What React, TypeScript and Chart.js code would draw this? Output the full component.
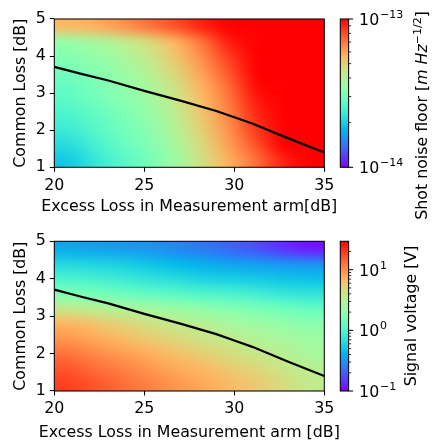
import React, { useEffect, useRef } from 'react';
import { Chart, registerables } from 'chart.js';

Chart.register(...registerables);

// ---------------- data ----------------
// heat-map cell centres
const EXCESS_LOSS_CENTERS = [20.75, 22.25, 23.75, 25.25, 26.75, 28.25, 29.75, 31.25, 32.75, 34.25];
const COMMON_LOSS_CENTERS = [1.2, 1.6, 2.0, 2.4, 2.8, 3.2, 3.6, 4.0, 4.4, 4.8];

// log10 of shot noise floor [m Hz^-1/2]; rows = common loss (bottom -> top)
const SHOT_NOISE_LOG10 = [
  [-13.71, -13.64, -13.58, -13.52, -13.44, -13.34, -13.24, -13.14, -13.04, -12.95],
  [-13.67, -13.61, -13.55, -13.50, -13.42, -13.32, -13.21, -13.10, -13.00, -12.92],
  [-13.63, -13.58, -13.53, -13.48, -13.40, -13.30, -13.19, -13.07, -12.97, -12.90],
  [-13.60, -13.56, -13.51, -13.46, -13.38, -13.28, -13.17, -13.05, -12.95, -12.90],
  [-13.57, -13.53, -13.49, -13.44, -13.36, -13.26, -13.15, -13.03, -12.93, -12.90],
  [-13.55, -13.51, -13.47, -13.42, -13.34, -13.24, -13.13, -13.01, -12.92, -12.90],
  [-13.52, -13.49, -13.45, -13.39, -13.31, -13.21, -13.10, -12.99, -12.90, -12.90],
  [-13.49, -13.46, -13.42, -13.36, -13.28, -13.18, -13.07, -12.97, -12.90, -12.90],
  [-13.45, -13.42, -13.38, -13.32, -13.24, -13.14, -13.03, -12.95, -12.90, -12.90],
  [-13.26, -13.24, -13.20, -13.15, -13.10, -13.04, -12.98, -12.92, -12.90, -12.90],
];

// log10 of signal voltage [V]; rows = common loss (bottom -> top)
const SIGNAL_VOLTAGE_LOG10 = [
  [1.27, 1.20, 1.12, 1.05, 0.97, 0.90, 0.83, 0.75, 0.65, 0.55],
  [1.20, 1.12, 1.05, 0.97, 0.90, 0.83, 0.75, 0.68, 0.58, 0.51],
  [1.10, 1.02, 0.95, 0.88, 0.80, 0.73, 0.65, 0.58, 0.51, 0.43],
  [0.97, 0.90, 0.83, 0.75, 0.68, 0.60, 0.55, 0.48, 0.43, 0.38],
  [0.85, 0.78, 0.70, 0.63, 0.55, 0.51, 0.43, 0.38, 0.33, 0.28],
  [0.56, 0.51, 0.46, 0.41, 0.36, 0.31, 0.26, 0.21, 0.16, 0.11],
  [0.23, 0.19, 0.14, 0.09, 0.06, 0.01, -0.01, -0.06, -0.11, -0.14],
  [-0.01, -0.04, -0.09, -0.14, -0.19, -0.24, -0.26, -0.28, -0.31, -0.33],
  [-0.21, -0.24, -0.26, -0.31, -0.36, -0.41, -0.46, -0.48, -0.51, -0.53],
  [-0.43, -0.46, -0.48, -0.51, -0.56, -0.61, -0.68, -0.75, -0.85, -0.93],
];

// black boundary curve
const BOUNDARY_EXCESS_LOSS = [20, 21.5, 23, 25, 27, 29, 30, 31, 33, 35];
const BOUNDARY_COMMON_LOSS = [3.71, 3.52, 3.34, 3.06, 2.80, 2.52, 2.35, 2.18, 1.78, 1.40];

const X_TICKS = [20, 25, 30, 35];
const Y_TICKS = [1, 2, 3, 4, 5];
const SHOT_NOISE_RANGE = [1e-14, 1e-13];
const SHOT_NOISE_MAJOR = [1e-14, 1e-13];
const SIGNAL_RANGE = [0.1, 29.4];
const SIGNAL_MAJOR = [0.1, 1, 10];

// ---------------- styling ----------------
const W = 437;
const H = 222;
const FONT_FAMILY = '"DejaVu Sans", sans-serif';
const FS = 15.8;
const SUP_FS = 11;
const PLOT_LEFT = 54.3;
const PLOT_RIGHT = 324.3;
const Y_TITLE_BASELINE_X = 24.5;

type Part = { text: string; italic?: boolean; sup?: boolean };

interface PanelCfg {
  grid: number[][];
  range: number[];
  major: number[];
  xTitle: string;
  yTitle: string;
  cbTitle: Part[];
  plotTop: number;
  plotBottom: number;
  xTitleBaseline: number;
  cbTitleX: number;
  cbTitleY: number;
}

const TOP: PanelCfg = {
  grid: SHOT_NOISE_LOG10,
  range: SHOT_NOISE_RANGE,
  major: SHOT_NOISE_MAJOR,
  xTitle: 'Excess Loss in Measurement arm[dB]',
  yTitle: 'Common Loss [dB]',
  cbTitle: [
    { text: 'Shot noise floor [' },
    { text: 'm Hz', italic: true },
    { text: '\u22121/2', sup: true },
    { text: ']' },
  ],
  plotTop: 19,
  plotBottom: 167.3,
  xTitleBaseline: 210.7,
  cbTitleX: 427.3,
  cbTitleY: 115.5,
};

const BOTTOM: PanelCfg = {
  grid: SIGNAL_VOLTAGE_LOG10,
  range: SIGNAL_RANGE,
  major: SIGNAL_MAJOR,
  xTitle: 'Excess Loss in Measurement arm [dB]',
  yTitle: 'Common Loss [dB]',
  cbTitle: [{ text: 'Signal voltage [V]' }],
  plotTop: 19.3,
  plotBottom: 169,
  xTitleBaseline: 215,
  cbTitleX: 416,
  cbTitleY: 94,
};

function rainbow(t: number): string {
  const x = Math.min(1, Math.max(0, t));
  const r = Math.min(1, Math.abs(2 * x - 0.5));
  const g = Math.max(0, Math.sin(Math.PI * x));
  const b = Math.max(0, Math.cos((Math.PI * x) / 2));
  return `rgb(${Math.round(r * 255)},${Math.round(g * 255)},${Math.round(b * 255)})`;
}

function minorTicks(min: number, max: number): number[] {
  const out: number[] = [];
  for (let e = Math.floor(Math.log10(min)); e <= Math.ceil(Math.log10(max)); e++) {
    for (let m = 2; m <= 9; m++) {
      const v = m * Math.pow(10, e);
      if (v > min * 1.0001 && v < max * 0.9999) out.push(v);
    }
  }
  return out;
}

function makePlugin(cfg: PanelCfg) {
  return {
    id: 'heatmapColorbar',
    beforeDatasetsDraw(chart: any) {
      const { ctx, chartArea } = chart;
      const xs = chart.scales.x;
      const ys = chart.scales.y;
      const cb = chart.scales.cb;
      const nx = EXCESS_LOSS_CENTERS.length;
      const ny = COMMON_LOSS_CENTERS.length;
      const off = document.createElement('canvas');
      off.width = nx;
      off.height = ny;
      const octx = off.getContext('2d')!;
      const span = cb.bottom - cb.top;
      for (let j = 0; j < ny; j++) {
        for (let i = 0; i < nx; i++) {
          const val = Math.pow(10, cfg.grid[j][i]);
          const t = (cb.bottom - cb.getPixelForValue(val)) / span;
          octx.fillStyle = rainbow(t);
          octx.fillRect(i, ny - 1 - j, 1, 1);
        }
      }
      const hx = (EXCESS_LOSS_CENTERS[1] - EXCESS_LOSS_CENTERS[0]) / 2;
      const hy = (COMMON_LOSS_CENTERS[1] - COMMON_LOSS_CENTERS[0]) / 2;
      const left = xs.getPixelForValue(EXCESS_LOSS_CENTERS[0] - hx);
      const right = xs.getPixelForValue(EXCESS_LOSS_CENTERS[nx - 1] + hx);
      const top = ys.getPixelForValue(COMMON_LOSS_CENTERS[ny - 1] + hy);
      const bottom = ys.getPixelForValue(COMMON_LOSS_CENTERS[0] - hy);
      ctx.save();
      ctx.beginPath();
      ctx.rect(chartArea.left, chartArea.top, chartArea.right - chartArea.left, chartArea.bottom - chartArea.top);
      ctx.clip();
      ctx.imageSmoothingEnabled = true;
      ctx.imageSmoothingQuality = 'high';
      ctx.drawImage(off, 0, 0, nx, ny, left, top, right - left, bottom - top);
      ctx.restore();
    },
    afterDatasetsDraw(chart: any) {
      const { ctx, chartArea } = chart;
      const cb = chart.scales.cb;
      ctx.save();
      // spines
      ctx.strokeStyle = '#000';
      ctx.lineWidth = 1.05;
      ctx.strokeRect(chartArea.left, chartArea.top, chartArea.right - chartArea.left, chartArea.bottom - chartArea.top);

      ctx.fillStyle = '#000';
      ctx.textBaseline = 'alphabetic';

      // axis titles
      ctx.font = `${FS}px ${FONT_FAMILY}`;
      ctx.textAlign = 'center';
      ctx.fillText(cfg.xTitle, (chartArea.left + chartArea.right) / 2, cfg.xTitleBaseline);
      ctx.save();
      ctx.translate(Y_TITLE_BASELINE_X, (chartArea.top + chartArea.bottom) / 2);
      ctx.rotate(-Math.PI / 2);
      ctx.fillText(cfg.yTitle, 0, 0);
      ctx.restore();

      // colorbar
      const cbL = chartArea.right + 16;
      const cbW = 8.3;
      const cTop = cb.top;
      const cBot = cb.bottom;
      const grad = ctx.createLinearGradient(0, cBot, 0, cTop);
      for (let k = 0; k <= 60; k++) grad.addColorStop(k / 60, rainbow(k / 60));
      ctx.fillStyle = grad;
      ctx.fillRect(cbL, cTop, cbW, cBot - cTop);
      ctx.strokeStyle = '#000';
      ctx.lineWidth = 1.05;
      ctx.strokeRect(cbL, cTop, cbW, cBot - cTop);

      const cbR = cbL + cbW;
      ctx.lineWidth = 0.8;
      for (const v of minorTicks(cfg.range[0], cfg.range[1])) {
        const y = cb.getPixelForValue(v);
        ctx.beginPath();
        ctx.moveTo(cbR, y);
        ctx.lineTo(cbR + 2.6, y);
        ctx.stroke();
      }
      ctx.lineWidth = 1.05;
      ctx.fillStyle = '#000';
      ctx.textAlign = 'left';
      for (const v of cfg.major) {
        const y = cb.getPixelForValue(v);
        ctx.beginPath();
        ctx.moveTo(cbR, y);
        ctx.lineTo(cbR + 4.5, y);
        ctx.stroke();
        const exp = Math.round(Math.log10(v));
        const sup = (exp < 0 ? '\u2212' : '') + Math.abs(exp);
        const lx = cbR + 10.5;
        const base = y + 5.8;
        ctx.font = `${FS}px ${FONT_FAMILY}`;
        ctx.fillText('10', lx, base);
        const w = ctx.measureText('10').width;
        ctx.font = `${SUP_FS}px ${FONT_FAMILY}`;
        ctx.fillText(sup, lx + w + 0.8, base - 6.8);
      }

      // colorbar title (rotated, reading bottom-to-top)
      ctx.translate(cfg.cbTitleX, cfg.cbTitleY);
      ctx.rotate(-Math.PI / 2);
      const fontFor = (p: Part) =>
        `${p.italic ? 'italic ' : ''}${p.sup ? SUP_FS : FS}px ${FONT_FAMILY}`;
      let total = 0;
      for (const p of cfg.cbTitle) {
        ctx.font = fontFor(p);
        total += ctx.measureText(p.text).width;
      }
      let x = -total / 2;
      for (const p of cfg.cbTitle) {
        ctx.font = fontFor(p);
        ctx.fillText(p.text, x, p.sup ? -6.8 : 0);
        x += ctx.measureText(p.text).width;
      }
      ctx.restore();
    },
  };
}

function Panel({ cfg }: { cfg: PanelCfg }) {
  const ref = useRef<HTMLCanvasElement>(null);
  useEffect(() => {
    const canvas = ref.current!;
    const font = { family: FONT_FAMILY, size: FS };
    const gridOpts = {
      display: true,
      drawOnChartArea: false,
      drawTicks: true,
      tickLength: 4.5,
      tickWidth: 1.05,
      tickColor: '#000',
      color: '#000',
      lineWidth: 1.05,
    };
    const chart = new Chart(canvas, {
      type: 'line',
      data: {
        datasets: [
          {
            data: BOUNDARY_EXCESS_LOSS.map((x, i) => ({ x, y: BOUNDARY_COMMON_LOSS[i] })),
            borderColor: '#000',
            borderWidth: 2.2,
            pointRadius: 0,
            tension: 0,
            fill: false,
            xAxisID: 'x',
            yAxisID: 'y',
          },
        ],
      },
      options: {
        responsive: false,
        animation: false,
        devicePixelRatio: 1,
        layout: { padding: { top: cfg.plotTop, left: 0, right: 0, bottom: 0 } },
        plugins: {
          legend: { display: false },
          tooltip: { enabled: false },
          title: { display: false },
        },
        scales: {
          x: {
            type: 'linear',
            position: 'bottom',
            min: 20,
            max: 35,
            afterBuildTicks: (s: any) => {
              s.ticks = X_TICKS.map((v) => ({ value: v }));
            },
            ticks: { font, color: '#000', padding: 4.2, maxRotation: 0, autoSkip: false },
            grid: gridOpts,
            border: { display: false },
            title: { display: false },
            afterFit: (s: any) => {
              s.height = H - cfg.plotBottom;
            },
          },
          y: {
            type: 'linear',
            position: 'left',
            min: 1,
            max: 5,
            afterBuildTicks: (s: any) => {
              s.ticks = Y_TICKS.map((v) => ({ value: v }));
            },
            ticks: { font, color: '#000', padding: 4 },
            grid: gridOpts,
            border: { display: false },
            title: { display: false },
            afterFit: (s: any) => {
              s.width = PLOT_LEFT;
            },
          },
          cb: {
            type: 'logarithmic',
            position: 'right',
            min: cfg.range[0],
            max: cfg.range[1],
            display: true,
            grid: { display: false, drawTicks: false, tickLength: 0 },
            border: { display: false },
            ticks: { display: false },
            afterFit: (s: any) => {
              s.width = W - PLOT_RIGHT;
            },
          },
        },
      } as any,
      plugins: [makePlugin(cfg)],
    });
    return () => chart.destroy();
  }, [cfg]);
  return <canvas ref={ref} width={W} height={H} style={{ display: 'block', width: W, height: H }} />;
}

export default function App() {
  return (
    <div style={{ position: 'absolute', left: 0, top: 0, width: W, height: 2 * H, background: '#fff' }}>
      <Panel cfg={TOP} />
      <Panel cfg={BOTTOM} />
    </div>
  );
}
